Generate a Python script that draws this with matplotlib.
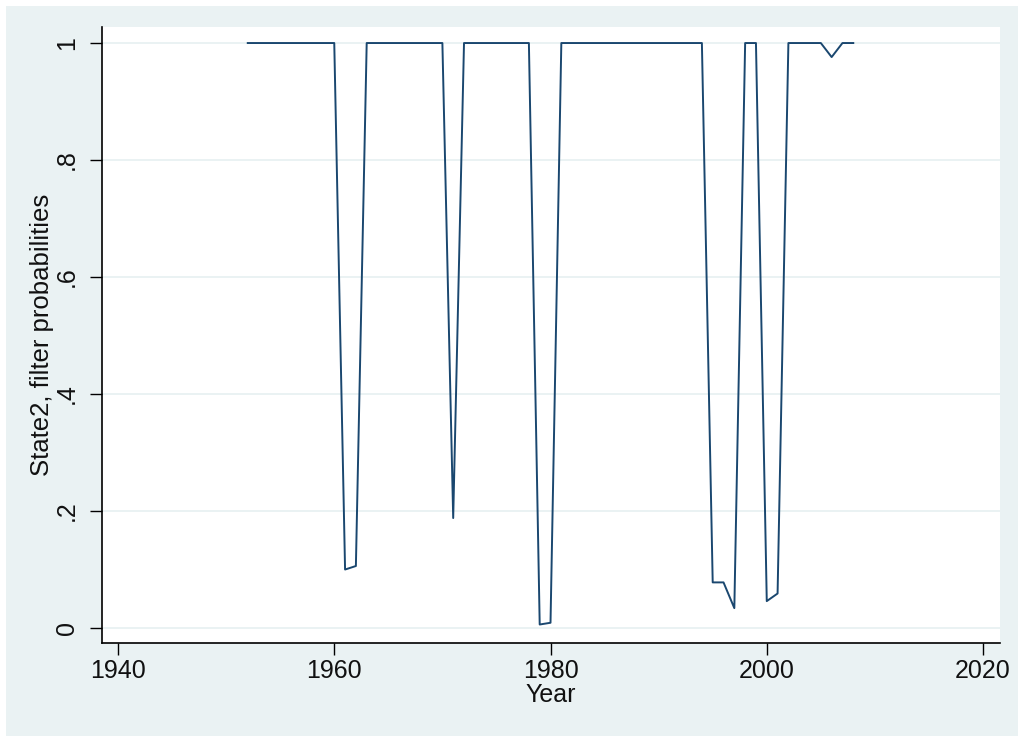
import numpy as np
import matplotlib.pyplot as plt
from matplotlib.patches import Rectangle

# ============================================================
# DATA
# ============================================================

years = list(range(1952, 2009))

# filter probabilities of state 2, one value per year 1952..2008
prob = {
    1961: 0.100, 1962: 0.106,
    1971: 0.188,
    1979: 0.006, 1980: 0.009,
    1995: 0.078, 1996: 0.078, 1997: 0.034,
    2000: 0.046, 2001: 0.059,
    2006: 0.976,
}
state2 = [prob.get(y, 1.0) for y in years]

x_ticks = [1940, 1960, 1980, 2000, 2020]
y_ticks = [0, 0.2, 0.4, 0.6, 0.8, 1.0]
y_tick_labels = ["0", ".2", ".4", ".6", ".8", "1"]

# ============================================================
# STYLE
# ============================================================

outer_bg = "#EAF2F3"
grid_col = "#EAF2F3"
line_col = "#1A476F"
text_col = "#111111"

plt.rcParams["font.family"] = ["Liberation Sans", "DejaVu Sans"]

W, H = 1018, 736
fig = plt.figure(figsize=(W / 100, H / 100), dpi=100)
fig.patch.set_facecolor("white")

# stata-like outer graph region (drawn behind the axes)
bg = Rectangle((6 / W, 0), (W - 6) / W, (H - 6) / H,
               transform=fig.transFigure, facecolor=outer_bg,
               edgecolor="none", zorder=-10)
fig.add_artist(bg)

ax = fig.add_axes([102 / W, (H - 643) / H, (1000 - 102) / W, (643 - 27) / H])
ax.set_zorder(1)
ax.set_facecolor("white")

ax.plot(years, state2, color=line_col, linewidth=1.4, zorder=3)

ax.set_xlim(1938.52, 2021.57)
ax.set_ylim(-0.0256, 1.0274)

ax.set_xticks(x_ticks)
ax.set_xticklabels([str(t) for t in x_ticks])
ax.set_yticks(y_ticks)
ax.set_yticklabels(y_tick_labels, rotation=90, va="center")

ax.grid(True, axis="y", color=grid_col, linewidth=1.4, zorder=1)
ax.set_axisbelow(True)

for side in ["top", "right"]:
    ax.spines[side].set_visible(False)
for side in ["left", "bottom"]:
    ax.spines[side].set_color("black")
    ax.spines[side].set_linewidth(1.2)

ax.tick_params(axis="x", length=8.5, width=1.0, pad=3, labelsize=18,
               labelcolor=text_col)
ax.tick_params(axis="y", length=8.5, width=1.0, pad=8, labelsize=18,
               labelcolor=text_col)

ax.set_xlabel("Year", fontsize=18, color=text_col, labelpad=0)
ax.set_ylabel("State2, filter probabilities", fontsize=18.5, color=text_col,
              labelpad=1)

fig.savefig("out.png", dpi=100, facecolor=fig.get_facecolor())
